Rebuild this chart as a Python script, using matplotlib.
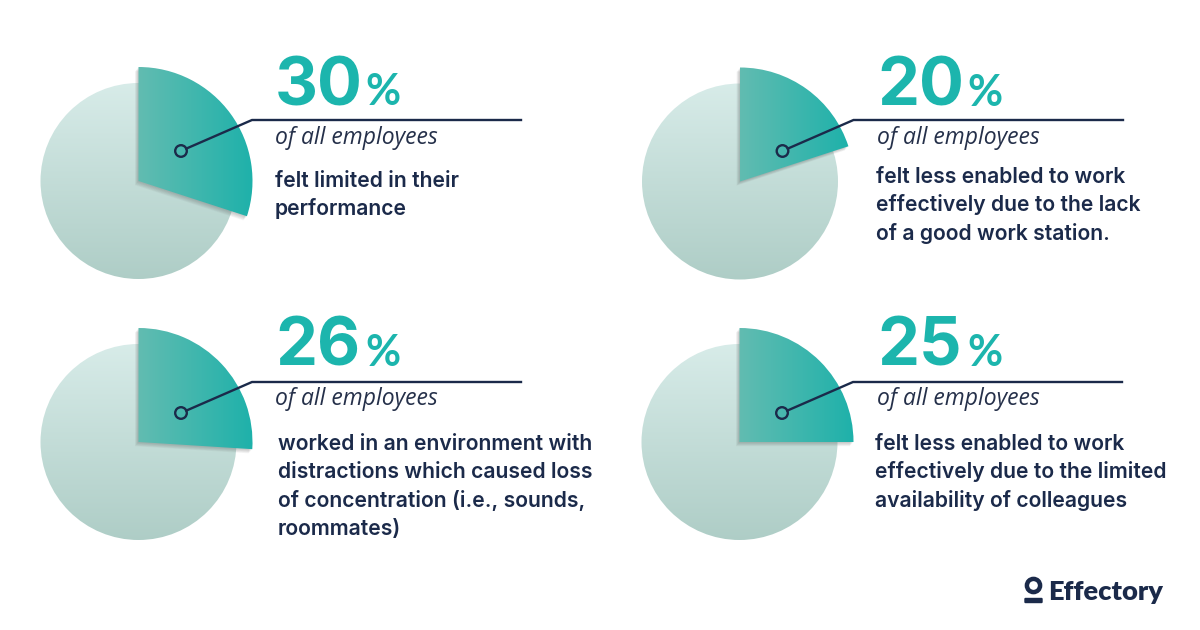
import numpy as np
import matplotlib
matplotlib.use("Agg")
import matplotlib.pyplot as plt
from matplotlib.patches import Circle, FancyBboxPatch

# values shown on the four pies
percent = [30, 20, 26, 25]
captions = [
    ["felt limited in their", "performance"],
    ["felt less enabled to work", "effectively due to the lack", "of a good work station."],
    ["worked in an environment with", "distractions which caused loss", "of concentration (i.e., sounds,", "roommates)"],
    ["felt less enabled to work", "effectively due to the limited", "availability of colleagues"],
]
subtitle = "of all employees"

# layout, in pixels from the top left of the picture
pie_x = [138.5, 740, 138.5, 739.5]
pie_y = [181, 181.5, 442, 442]
num_x = [275, 877, 275, 877]
pct_x = [365, 967, 365, 967]
cap_x = [275, 876, 278, 875]
cap_y = [187, 183, 450, 450]
line_y = [120, 120, 382, 382]
line_end = [521, 1123, 521, 1122]

NAVY = "#1b2a4a"
TEAL = "#1cb5ad"
H = 630

fig = plt.figure(figsize=(12, 6.3), dpi=100)
ax = fig.add_axes([0, 0, 1, 1])


def gradient(patch, c0, c1, box, vertical):
    # fill a patch with a linear colour ramp
    c0 = np.array(matplotlib.colors.to_rgb(c0))
    c1 = np.array(matplotlib.colors.to_rgb(c1))
    t = np.linspace(0, 1, 256)
    ramp = c0 + (c1 - c0) * t[:, None]
    img = ramp[:, None, :] if vertical else ramp[None, :, :]
    im = ax.imshow(img, extent=box, origin="upper", aspect="auto", zorder=patch.get_zorder() + 0.1)
    im.set_clip_path(patch)


for i, v in enumerate(percent):
    cx, cy = pie_x[i], H - pie_y[i]

    # pale full pie underneath
    disc = Circle((cx, cy), 98, transform=ax.transData, fc="none", ec="none", zorder=1)
    ax.add_patch(disc)
    gradient(disc, "#d8ece9", "#aecdc6", (cx - 100, cx + 100, cy - 100, cy + 100), True)

    # soft shadow of the raised slice on the pale pie
    for k in range(1, 8):
        sh = ax.pie([v, 100 - v], radius=114, center=(cx - k * 0.5, cy - k * 0.6), startangle=90,
                    counterclock=False, colors=["#555555", "none"],
                    wedgeprops={"alpha": 0.05, "linewidth": 0, "zorder": 2})[0]
        sh[0].set_clip_path(disc)

    # raised slice
    wedges = ax.pie([v, 100 - v], radius=114, center=(cx, cy), startangle=90, counterclock=False,
                    colors=["none", "none"], wedgeprops={"linewidth": 0, "zorder": 3})[0]
    x1 = cx + 114 * min(1, np.sin(min(v / 100 * 2 * np.pi, np.pi / 2)))
    gradient(wedges[0], "#62bcb1", "#1db1aa", (cx - 1, x1 + 2, cy - 116, cy + 116), False)

    # leader line with ring marker
    ey = H - line_y[i]
    mx, my = cx + 42.5, ey - 31
    ex = cx + 113.5
    ax.plot([mx + 5.3, ex, line_end[i]], [my + 2.4, ey, ey], color=NAVY, lw=1.7, zorder=6,
            solid_joinstyle="miter")
    ax.add_patch(Circle((mx, my), 5.8, fc="none", ec=NAVY, lw=1.7, zorder=6))

    # big number
    base_y = cy + 76
    ax.text(num_x[i], base_y, str(v), color=TEAL, fontsize=48, fontweight="bold",
            family="Inter", va="baseline", ha="left", zorder=7)
    ax.text(pct_x[i], base_y, "%", color=TEAL, fontsize=31, fontweight="bold",
            family="Lato", va="baseline", ha="left", zorder=7)
    ax.text(num_x[i], cy + 37, subtitle, color="#25304a", fontsize=16.5, style="italic",
            family="Open Sans", va="baseline", ha="left", zorder=7)

    # caption lines
    for j, line in enumerate(captions[i]):
        ax.text(cap_x[i], H - cap_y[i] - j * 28.4, line, color=NAVY, fontsize=15.2, fontweight="semibold",
                family="Inter", va="baseline", ha="left", zorder=7)

# logo
ax.add_patch(Circle((1033.5, H - 585.5), 6.6, fc="none", ec=NAVY, lw=3.2))
ax.add_patch(FancyBboxPatch((1025.5, H - 602), 16, 3, boxstyle="round,pad=1.2", fc=NAVY, ec="none"))
ax.text(1048, H - 600, "Effectory", color=NAVY, fontsize=19.6, fontweight="heavy", family="Lato",
        va="baseline", ha="left")

ax.set_xlim(0, 1200)
ax.set_ylim(0, H)
ax.set_aspect("auto")
ax.axis("off")

plt.savefig("out.png", dpi=100, facecolor="white")
